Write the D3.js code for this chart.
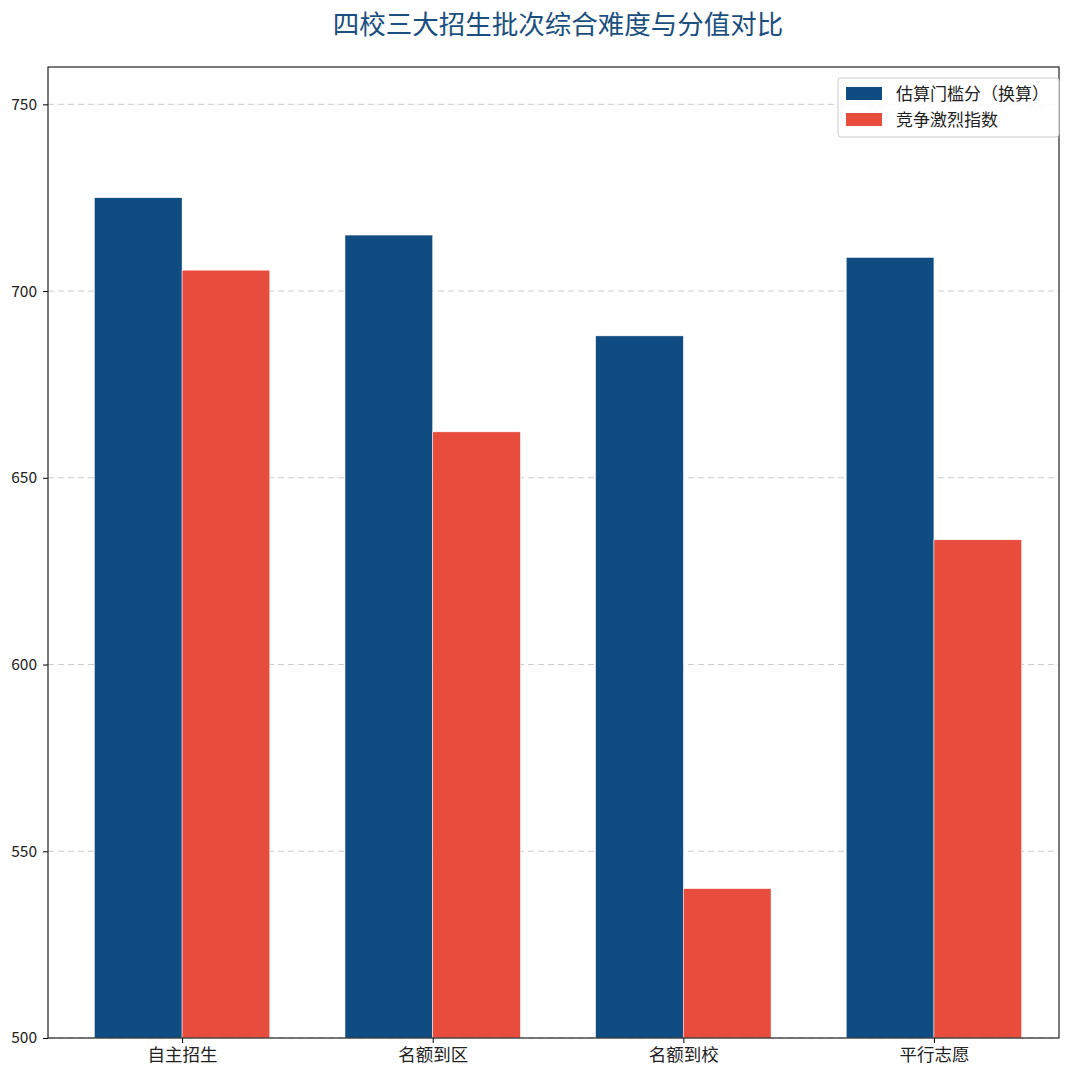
<!DOCTYPE html>
<html>
<head>
  <meta charset="utf-8">
  <script src="https://d3js.org/d3.v7.min.js"></script>
  <style>
    body { margin: 0; background: #fff; font-family: "Noto Sans CJK SC", "DejaVu Sans", sans-serif; }
    .axis text { font-size: 15.5px; fill: #222; font-family: "Noto Sans CJK SC", sans-serif; }
    .grid line { stroke: #ccc; stroke-dasharray: 6 4; }
  </style>
</head>
<body>
  <div id="chart"></div>
  <script>
    const categories = ["自主招生", "名额到区", "名额到校", "平行志愿"];
    const seriesNames = ["估算门槛分（换算）", "竞争激烈指数"];
    const thresholdScore = [725, 715, 688, 709];
    const competitionIndex = [705.6, 662.3, 540, 633.4];
    const yTicks = [500, 550, 600, 650, 700, 750];
    const colors = ["#0f4c81", "#e74c3c"];

    const W = 1080, H = 1080;
    const plot = {left: 48, right: 1059, top: 67, bottom: 1038};
    const barW = 0.35;

    const svg = d3.select("#chart").append("svg")
      .attr("width", W).attr("height", H);

    const x = d3.scaleLinear().domain([-0.535, 3.499]).range([plot.left, plot.right]);
    const y = d3.scaleLinear().domain([500, 760]).range([plot.bottom, plot.top]);

    // grid
    svg.append("g").attr("class", "grid")
      .selectAll("line").data(yTicks).join("line")
        .attr("x1", plot.left).attr("x2", plot.right)
        .attr("y1", d => y(d)).attr("y2", d => y(d));

    const series = [thresholdScore, competitionIndex];
    series.forEach((vals, s) => {
      svg.append("g").selectAll("rect").data(vals).join("rect")
        .attr("x", (d, i) => x(i + (s === 0 ? -barW : 0)))
        .attr("width", x(barW) - x(0))
        .attr("y", d => y(d))
        .attr("height", d => y(500) - y(d))
        .attr("fill", colors[s])
        .attr("stroke", "#fff").attr("stroke-width", 0.5);
    });

    // axes
    svg.append("g").attr("class", "axis")
      .attr("transform", `translate(${plot.left},0)`)
      .call(d3.axisLeft(y).tickValues(yTicks).tickSize(5).tickPadding(6))
      .call(g => g.select(".domain").remove());

    svg.append("g").attr("class", "axis")
      .attr("transform", `translate(0,${plot.bottom})`)
      .call(d3.axisBottom(x).tickValues([0, 1, 2, 3]).tickFormat(i => categories[i]).tickSize(5).tickPadding(6))
      .call(g => g.select(".domain").remove())
      .selectAll("text").style("font-size", "17.5px");

    svg.append("rect")
      .attr("x", plot.left).attr("y", plot.top)
      .attr("width", plot.right - plot.left).attr("height", plot.bottom - plot.top)
      .attr("fill", "none").attr("stroke", "#222").attr("stroke-width", 1.2);

    // title
    svg.append("text")
      .attr("x", 558).attr("y", 34)
      .attr("text-anchor", "middle")
      .style("font-size", "26.5px")
      .style("fill", "#1a4f80")
      .text("四校三大招生批次综合难度与分值对比");

    // legend
    const lg = svg.append("g").attr("transform", "translate(838,78)");
    lg.append("rect").attr("width", 221).attr("height", 59).attr("rx", 3)
      .attr("fill", "#fff").attr("fill-opacity", 0.85).attr("stroke", "#ccc");
    seriesNames.forEach((name, i) => {
      lg.append("rect").attr("x", 8).attr("y", 9 + i * 26).attr("width", 36).attr("height", 13)
        .attr("fill", colors[i]);
      lg.append("text").attr("x", 58).attr("y", 22 + i * 26)
        .style("font-size", "17px").style("fill", "#222")
        .text(name);
    });
  </script>
</body>
</html>
